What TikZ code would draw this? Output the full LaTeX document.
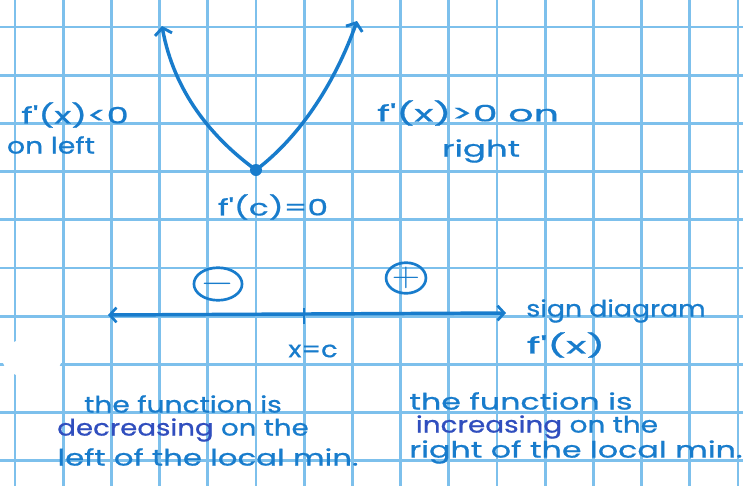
\documentclass[tikz,border=0pt]{standalone}
\usepackage{fontspec}
\usepackage{graphicx}
\setmainfont{Poppins}
\newfontfamily\hand[FakeBold=0.7]{Poppins}
\usetikzlibrary{arrows.meta,shapes.geometric}
\definecolor{gridc}{RGB}{125,192,236}
\definecolor{ink}{RGB}{24,124,204}
\definecolor{darkink}{RGB}{48,78,190}
\newcommand{\hw}[2]{\scalebox{#1}[1]{#2}}
\tikzset{
  gridline/.style={gridc, line width=2pt},
  curveline/.style={ink, line width=2.6pt, line cap=round},
  lbl/.style={text=ink, inner sep=0pt, font=\hand\fontsize{17}{17}\selectfont},
  signmark/.style={draw=ink, ellipse, line width=2pt, inner sep=0pt, text=ink},
  tip/.style={-{Straight Barb[length=5pt,width=13pt,line width=2.2pt]}},
}
\begin{document}
\begin{tikzpicture}[x=0.75pt,y=-0.75pt]
\fill[white] (0,0) rectangle (743,486);
\useasboundingbox (0,0) rectangle (743,486);
% grid paper
\foreach \k in {0,...,15} { \draw[gridline] ({15+48.2*\k},0) -- ({15+48.2*\k},486); }
\foreach \k in {0,...,9} { \draw[gridline] (0,{27+48.2*\k}) -- (743,{27+48.2*\k}); }
% smudge
\fill[white] (32,358) ellipse [x radius=30, y radius=20];

% parabola
\coordinate (ltip) at (162,26);
\coordinate (rtip) at (357,21);
\node[circle, fill=ink, minimum size=9pt, inner sep=0pt] (vtx) at (256,170) {};
\draw[curveline, tip] (vtx.center) .. controls (212,138) and (174,92) .. (ltip);
\draw[curveline, tip] (vtx.center) .. controls (302,135) and (336,80) .. (rtip);

% labels on graph
\node[lbl] (fl) at (75,115) {\hw{1.55}{f'(x)<0}};
\node[lbl] (onleft) at (51,145) {\hw{1.25}{on left}};
\node[lbl] (fc) at (273,207) {\hw{1.45}{f'(c)=0}};
\node[lbl] (fr) at (468,113) {\hw{1.75}{f'(x)>0 on}};
\node[lbl] (right) at (481,151) {\hw{1.5}{right}};

% sign diagram
\coordinate (nl) at (108,315);
\coordinate (nr) at (506,313);
\coordinate (tickT) at (304,308);
\coordinate (tickB) at (304,324);
\draw[curveline, {Straight Barb[length=5pt,width=11pt,line width=2pt]}-{Straight Barb[length=5pt,width=11pt,line width=2pt]}] (nl) -- (nr);
\draw[ink, line width=2pt] (tickT) -- (tickB);
\node[signmark, minimum width=31pt, minimum height=17pt, font=\fontsize{16}{16}\selectfont\bfseries] (minus) at (218,284) {\scalebox{1.9}[1.5]{$-$}};
\node[signmark, minimum width=28pt, minimum height=22pt, font=\fontsize{16}{16}\selectfont\bfseries] (plus) at (406,278) {\scalebox{1.7}[1.5]{$+$}};
\node[lbl] (xc) at (313,351) {\hw{1.2}{x=c}};
\node[lbl] (sd) at (616,311) {\hw{1.18}{sign diagram}};
\node[lbl] (fx) at (566,345) {\hw{1.85}{f'(x)}};

% left paragraph
\node[lbl] (l1) at (183,404) {\hw{1.24}{the function is}};
\node[lbl] (l2) at (183,430) {\hw{1.22}{\textcolor{darkink}{decreasing} on the}};
\node[lbl] (l3) at (208,457) {\hw{1.36}{left of the local min.}};

% right paragraph
\node[lbl] (r1) at (521,401) {\hw{1.4}{the function is}};
\node[lbl] (r2) at (537,427) {\hw{1.23}{\textcolor{darkink}{increasing} on the}};
\node[lbl] (r3) at (576,452) {\hw{1.4}{right of the local min.}};
\end{tikzpicture}
\end{document}
